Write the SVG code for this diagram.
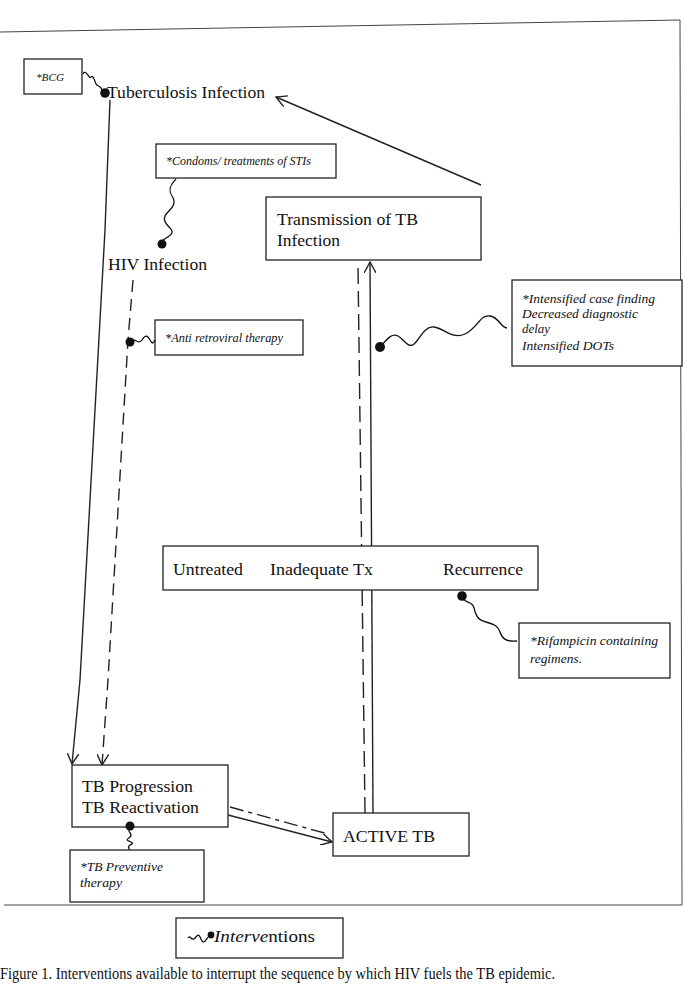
<svg xmlns="http://www.w3.org/2000/svg" width="685" height="991" viewBox="0 0 685 991">
<style>
.box{fill:#fff;stroke:#222;stroke-width:1.3}
.t{font-family:"Liberation Serif","Times New Roman",Times,serif;font-size:17.5px;fill:#111}
.it{font-family:"Liberation Serif","Times New Roman",Times,serif;font-style:italic;fill:#111}
.ln{fill:none;stroke:#222;stroke-width:1.4}
.sq{fill:none;stroke:#111;stroke-width:1.3}
.dot{fill:#111}
.frame{fill:none;stroke:#444;stroke-width:1}
</style>
<defs>
<marker id="arr" viewBox="0 0 12 12" refX="11" refY="6" markerWidth="12" markerHeight="12" markerUnits="userSpaceOnUse" orient="auto">
<path d="M0,0 L11,6 L0,12" fill="none" stroke="#222" stroke-width="1.4"/>
</marker>
</defs>
<rect width="685" height="991" fill="#fff"/>
<g id="frame">
<polyline class="frame" points="0,32 680,20 682,905 4,905"/>
</g>
<g id="connectors">
<line class="ln" x1="481" y1="185" x2="276" y2="97" marker-end="url(#arr)"/>
<path class="ln" d="M110,100 L105,230 L80,680 L72,764" marker-end="url(#arr)"/>
<path class="ln" d="M133,280 L128,340 L108,680 L102,765" stroke-dasharray="12,7" marker-end="url(#arr)"/>
<line class="ln" x1="365" y1="813" x2="358" y2="266" stroke-dasharray="16,7"/>
<line class="ln" x1="373" y1="813" x2="370" y2="262" marker-end="url(#arr)"/>
<line class="ln" x1="228" y1="815" x2="332" y2="842" marker-end="url(#arr)"/>
<line class="ln" x1="230" y1="807" x2="328" y2="834" stroke-dasharray="14,5,4,5"/>
</g>
<g id="n-bcg">
<rect class="box" x="24" y="59" width="58" height="35"/>
<text class="it" x="36" y="81" font-size="11" textLength="28" lengthAdjust="spacingAndGlyphs">*BCG</text>
<path class="sq" d="M83,74 C86,68 89,80 91,77 S95,82 96,84 S100,86 101,88 S103,91 104,93"/>
<circle class="dot" cx="105" cy="93" r="4.8"/>
</g>
<g id="n-tbinf">
<text class="t" x="107" y="98" textLength="158" lengthAdjust="spacingAndGlyphs">Tuberculosis Infection</text>
</g>
<g id="n-condoms">
<rect class="box" x="156" y="144" width="180" height="34"/>
<text class="it" x="166" y="165" font-size="12" textLength="145" lengthAdjust="spacingAndGlyphs">*Condoms/ treatments of STIs</text>
<path class="sq" d="M176,179 C170,185 168,190 172,196 S174,206 168,212 S164,222 170,228 S168,236 162,241"/>
<circle class="dot" cx="162" cy="244" r="4.5"/>
</g>
<g id="n-transmission">
<rect class="box" x="266" y="197" width="215" height="63"/>
<text class="t" x="277" y="225" textLength="141" lengthAdjust="spacingAndGlyphs">Transmission of TB</text>
<text class="t" x="277" y="246" textLength="63" lengthAdjust="spacingAndGlyphs">Infection</text>
</g>
<g id="n-hiv">
<text class="t" x="108" y="270" textLength="99" lengthAdjust="spacingAndGlyphs">HIV Infection</text>
</g>
<g id="n-arv">
<rect class="box" x="155" y="320" width="148" height="35"/>
<text class="it" x="165" y="342" font-size="12.5" textLength="118" lengthAdjust="spacingAndGlyphs">*Anti retroviral therapy</text>
<path class="sq" d="M131,342 C135,336 138,346 142,340 S148,336 150,340 S153,344 155,340"/>
<circle class="dot" cx="130" cy="342" r="4.5"/>
</g>
<g id="n-icf">
<rect class="box" x="512" y="280" width="170" height="86"/>
<text class="it" x="522" y="303" font-size="13.5" textLength="133" lengthAdjust="spacingAndGlyphs">*Intensified case finding</text>
<text class="it" x="522" y="318" font-size="13.5" textLength="116" lengthAdjust="spacingAndGlyphs">Decreased diagnostic</text>
<text class="it" x="522" y="333" font-size="13.5" textLength="28" lengthAdjust="spacingAndGlyphs">delay</text>
<text class="it" x="522" y="350" font-size="13.5" textLength="92" lengthAdjust="spacingAndGlyphs">Intensified DOTs</text>
<path class="sq" d="M381,346 C388,338 392,333 398,336 S408,349 414,344 S424,326 434,327 S452,340 465,334 S480,314 490,316 S500,327 507,328"/>
<circle class="dot" cx="380" cy="347" r="5"/>
</g>
<g id="n-untreated">
<rect class="box" x="163" y="546" width="375" height="44"/>
<text class="t" x="173" y="575" textLength="70" lengthAdjust="spacingAndGlyphs">Untreated</text>
<text class="t" x="270" y="575" textLength="103" lengthAdjust="spacingAndGlyphs">Inadequate Tx</text>
<text class="t" x="443" y="575" textLength="80" lengthAdjust="spacingAndGlyphs">Recurrence</text>
</g>
<g id="n-rif">
<rect class="box" x="519" y="623" width="151" height="55"/>
<text class="it" x="530" y="645" font-size="13.5" textLength="128" lengthAdjust="spacingAndGlyphs">*Rifampicin containing</text>
<text class="it" x="530" y="663" font-size="13.5" textLength="52" lengthAdjust="spacingAndGlyphs">regimens.</text>
<path class="sq" d="M462,597 C466,605 472,600 474,608 S478,620 486,622 S498,626 500,632 S505,642 517,641"/>
<circle class="dot" cx="462" cy="596" r="4.8"/>
</g>
<g id="n-progression">
<rect class="box" x="72" y="765" width="156" height="62"/>
<text class="t" x="82" y="792" textLength="111" lengthAdjust="spacingAndGlyphs">TB Progression</text>
<text class="t" x="82" y="813" textLength="117" lengthAdjust="spacingAndGlyphs">TB Reactivation</text>
</g>
<g id="n-preventive">
<rect class="box" x="70" y="850" width="134" height="52"/>
<text class="it" x="80" y="871" font-size="13" textLength="83" lengthAdjust="spacingAndGlyphs">*TB Preventive</text>
<text class="it" x="80" y="887" font-size="13" textLength="42" lengthAdjust="spacingAndGlyphs">therapy</text>
<path class="sq" d="M130,828 C126,832 134,834 130,837 S126,840 131,842 S126,845 129,848 L129,850"/>
<circle class="dot" cx="130" cy="826" r="4.5"/>
</g>
<g id="n-active">
<rect class="box" x="333" y="813" width="136" height="43"/>
<text class="t" x="343" y="842" textLength="92" lengthAdjust="spacingAndGlyphs">ACTIVE TB</text>
</g>
<g id="legend">
<rect class="box" x="176" y="918" width="167" height="40"/>
<path class="sq" d="M188,938 C190,934 192,942 195,938 S199,934 201,939 S205,942 208,937"/>
<circle class="dot" cx="211" cy="935" r="3.4"/>
<text class="t" x="214" y="942" font-size="17" textLength="101" lengthAdjust="spacingAndGlyphs"><tspan font-style="italic">Interve</tspan>ntions</text>
</g>
<text class="t" x="0" y="979" font-size="13" textLength="555" lengthAdjust="spacingAndGlyphs">Figure 1. Interventions available to interrupt the sequence by which HIV fuels the TB epidemic.</text>
</svg>
